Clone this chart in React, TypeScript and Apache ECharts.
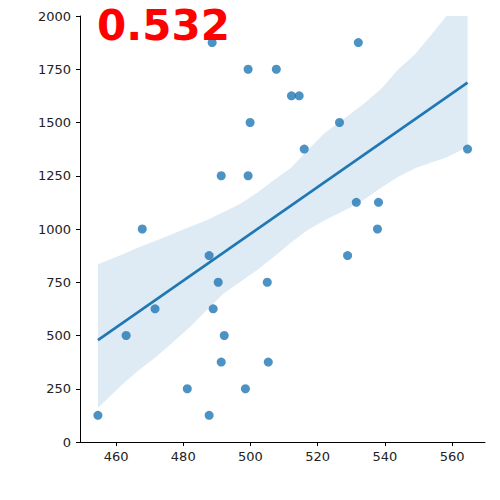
import React, { useEffect, useRef } from "react";
import * as echarts from "echarts";

const pointsX = [454.6, 463.0, 467.8, 471.6, 481.2, 487.7, 487.7, 488.6, 488.9, 490.4, 491.3, 491.3, 492.2, 498.5, 499.3, 499.3, 499.9, 505.0, 505.3, 507.7, 512.2, 514.5, 516.0, 526.5, 528.9, 531.5, 532.1, 537.8, 538.1, 564.6];
const pointsY = [125, 500, 1000, 625, 250, 875, 125, 1875, 625, 750, 1250, 375, 500, 250, 1750, 1250, 1500, 750, 375, 1750, 1625, 1625, 1375, 1500, 875, 1125, 1875, 1000, 1125, 1375];

const lineX = [454.6, 564.6];
const lineY = [478, 1687];

const bandX = [454.6, 462, 467, 472, 477, 482, 487, 492, 497, 502, 507, 512, 517, 522, 529, 534, 539, 544, 549, 554, 558.3, 564.6];
const bandUpper = [835, 882, 915, 946, 978, 1010, 1041, 1080, 1119, 1170, 1230, 1286, 1370, 1450, 1532, 1592, 1660, 1750, 1820, 1915, 2000, 2100];
const bandLower = [160, 272, 340, 400, 470, 540, 620, 697, 752, 808, 870, 935, 995, 1040, 1095, 1140, 1195, 1245, 1285, 1313, 1336, 1385];

const xTicks = [460, 480, 500, 520, 540, 560];
const annotation = "0.532";

export default function App() {
  const ref = useRef<HTMLDivElement>(null);
  useEffect(() => {
    if (!ref.current) return;
    const chart = echarts.init(ref.current, null, { renderer: "svg" });
    const font = "DejaVu Sans";
    chart.setOption({
      animation: false,
      grid: { left: 80, right: 15, top: 16, bottom: 58 },
      xAxis: {
        type: "value",
        min: 449.27,
        max: 569.8,
        splitLine: { show: false },
        axisLine: { show: true, onZero: false, lineStyle: { color: "#000", width: 1 } },
        axisTick: { show: true, length: 4, customValues: xTicks, lineStyle: { color: "#000" } },
        axisLabel: { customValues: xTicks, color: "#222", fontFamily: font, fontSize: 13, margin: 8 },
      },
      yAxis: {
        type: "value",
        min: 0,
        max: 2000,
        interval: 250,
        splitLine: { show: false },
        axisLine: { show: true, onZero: false, lineStyle: { color: "#000", width: 1 } },
        axisTick: { show: true, length: 4, lineStyle: { color: "#000" } },
        axisLabel: { color: "#222", fontFamily: font, fontSize: 13, margin: 9, formatter: (v: number) => String(v) },
      },
      graphic: [
        {
          type: "text",
          left: 97,
          top: 4,
          style: {
            text: annotation,
            fill: "#ff0000",
            font: "bold 42px 'DejaVu Sans'",
          },
          z: 100,
        },
      ],
      series: [
        {
          type: "custom",
          data: [[bandX[0], bandLower[0]]],
          silent: true,
          z: 1,
          renderItem: (params: any, api: any) => {
            const pts: number[][] = [];
            for (let i = 0; i < bandX.length; i++) pts.push(api.coord([bandX[i], bandUpper[i]]));
            for (let i = bandX.length - 1; i >= 0; i--) pts.push(api.coord([bandX[i], bandLower[i]]));
            const cs = params.coordSys;
            return {
              type: "polygon",
              shape: { points: pts },
              style: { fill: "rgba(31,119,180,0.15)" },
              clipPath: { type: "rect", shape: { x: cs.x, y: cs.y, width: cs.width, height: cs.height } },
            };
          },
        },
        {
          type: "line",
          data: lineX.map((x, i) => [x, lineY[i]]),
          symbol: "none",
          lineStyle: { color: "#1f77b4", width: 2.6 },
          z: 2,
        },
        {
          type: "scatter",
          data: pointsX.map((x, i) => [x, pointsY[i]]),
          symbolSize: 9,
          itemStyle: { color: "#1f77b4", opacity: 0.8 },
          clip: false,
          z: 3,
        },
      ],
    });
    return () => chart.dispose();
  }, []);
  return <div ref={ref} style={{ width: 500, height: 500, position: "absolute", left: 0, top: 0 }} />;
}
